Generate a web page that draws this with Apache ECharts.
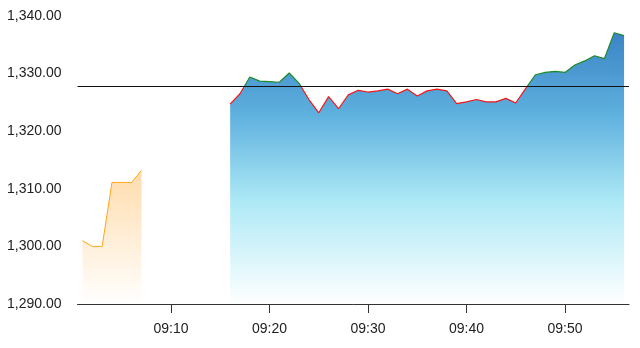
<!DOCTYPE html>
<html>
<head>
<meta charset="utf-8">
<script src="https://cdn.jsdelivr.net/npm/echarts@6/dist/echarts.min.js"></script>
<style>html,body{margin:0;padding:0;background:#fff}#c{width:640px;height:348px}</style>
</head>
<body>
<div id="c"></div>
<script>
var times = ['09:01','09:02','09:03','09:04','09:05','09:06','09:07','09:08','09:09','09:10',
'09:11','09:12','09:13','09:14','09:15','09:16','09:17','09:18','09:19','09:20',
'09:21','09:22','09:23','09:24','09:25','09:26','09:27','09:28','09:29','09:30',
'09:31','09:32','09:33','09:34','09:35','09:36','09:37','09:38','09:39','09:40',
'09:41','09:42','09:43','09:44','09:45','09:46','09:47','09:48','09:49','09:50',
'09:51','09:52','09:53','09:54','09:55','09:56'];
var earlyTimes = ['09:01','09:02','09:03','09:04','09:05','09:06','09:07'];
var earlyValues = [1301.0,1300.0,1300.0,1311.1,1311.1,1311.1,1313.2];
var mainStart = '09:16';
var mainValues = [1324.7,1326.5,1329.4,1328.7,1328.6,1328.5,1330.1,1328.3,1325.5,1323.2,
1326.0,1323.9,1326.3,1327.1,1326.8,1327.0,1327.3,1326.5,1327.3,1326.1,
1327.0,1327.3,1327.0,1324.8,1325.1,1325.5,1325.1,1325.1,1325.7,1324.9,
1327.4,1329.8,1330.2,1330.4,1330.2,1331.5,1332.2,1333.1,1332.6,1337.1,1336.6];
var refValue = 1327.8;
var yTicks = [1290,1300,1310,1320,1330,1340];

var early = times.map(function(t){ var k = earlyTimes.indexOf(t); return k >= 0 ? earlyValues[k] : null; });
var s0 = times.indexOf(mainStart);
var main = times.map(function(t, i){ var k = i - s0; return (k >= 0 && k < mainValues.length) ? mainValues[k] : null; });

var chart = echarts.init(document.getElementById('c'));
function showLabel(i, v){ return /0$/.test(v); }
chart.setOption({
  animation: false,
  grid: {left: 77.5, right: 11, top: 16, bottom: 44},
  xAxis: {
    type: 'category', data: times, boundaryGap: true,
    axisLine: {lineStyle: {color: '#333', width: 1}},
    axisTick: {show: true, alignWithLabel: true, interval: showLabel, length: 9, lineStyle: {color: '#333', width: 1}},
    axisLabel: {interval: showLabel, color: '#222', fontSize: 14, margin: 18, fontFamily: 'Liberation Sans, Arial, sans-serif'}
  },
  yAxis: {
    type: 'value', min: yTicks[0], max: yTicks[yTicks.length-1], interval: 10,
    axisLine: {show: false}, axisTick: {show: false}, splitLine: {show: false},
    axisLabel: {color: '#222', fontSize: 14, margin: 16, fontFamily: 'Liberation Sans, Arial, sans-serif',
      formatter: function(v){ return v.toLocaleString('en-US', {minimumFractionDigits: 2, maximumFractionDigits: 2}); }}
  },
  visualMap: {
    show: false, type: 'piecewise', seriesIndex: 1, dimension: 1,
    pieces: [{gte: 1200, lte: refValue, color: '#f21818'}, {gt: refValue, lte: 1400, color: '#1d8a2a'}],
    outOfRange: {color: '#1d8a2a'}
  },
  series: [
    {
      type: 'line', data: early, symbol: 'none', connectNulls: false,
      lineStyle: {color: '#ffa61a', width: 1},
      itemStyle: {color: '#ffa61a'},
      areaStyle: {opacity: 1, color: new echarts.graphic.LinearGradient(0,0,0,1,[
        {offset: 0, color: '#ffdcac'},
        {offset: 1, color: '#ffffff'}])},
      markLine: {
        silent: true, symbol: 'none', label: {show: false},
        lineStyle: {color: '#111', type: 'solid', width: 1},
        data: [{yAxis: refValue}]
      }
    },
    {
      type: 'line', data: main, symbol: 'none', connectNulls: false,
      lineStyle: {width: 1.2},
      areaStyle: {opacity: 1, color: new echarts.graphic.LinearGradient(0,0,0,1,[
        {offset: 0, color: '#3b84c6'},
        {offset: 0.3, color: '#5eb0de'},
        {offset: 0.62, color: '#ade9f6'},
        {offset: 1, color: '#ffffff'}])}
    }
  ]
});
</script>
</body>
</html>
